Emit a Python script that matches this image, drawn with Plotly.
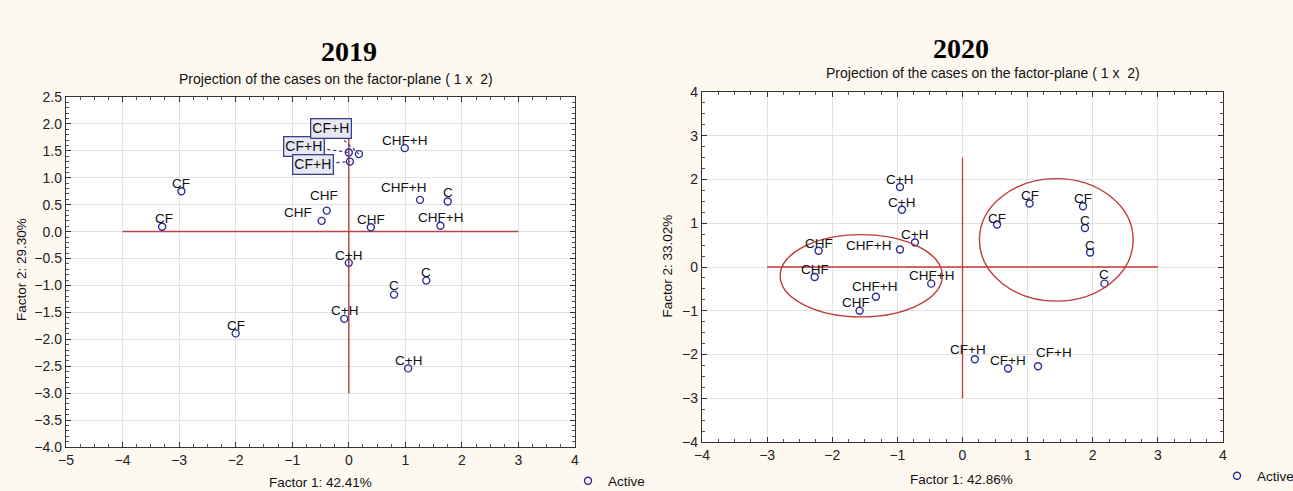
import plotly.graph_objects as go

# ---------------- data ----------------
# 2019 projection of the cases (Factor 1, Factor 2)
labels_2019 = ["CF", "CF", "CF", "CHF", "CHF", "CHF", "CF+H", "CF+H", "CF+H",
               "CHF+H", "CHF+H", "CHF+H", "C", "C", "C", "C+H", "C+H", "C+H"]
f1_2019 = [-3.30, -2.96, -2.00, -0.48, -0.39, 0.39, 0.00, 0.18, 0.02,
           0.99, 1.26, 1.62, 1.75, 1.37, 0.80, 0.00, -0.08, 1.05]
f2_2019 = [0.09, 0.75, -1.89, 0.20, 0.39, 0.08, 1.47, 1.44, 1.30,
           1.55, 0.59, 0.11, 0.56, -0.91, -1.17, -0.58, -1.62, -2.54]
boxed_2019 = [6, 7, 8]                      # cases shown with boxed call-out labels
callout_f1_2019 = [-0.80, -0.32, -0.64]     # box anchors in factor units
callout_f2_2019 = [1.59, 1.92, 1.25]

# 2020 projection of the cases
labels_2020 = ["C+H", "C+H", "C+H", "CHF", "CHF+H", "CHF", "CHF+H", "CHF+H", "CHF",
               "CF+H", "CF+H", "CF+H", "CF", "CF", "CF", "C", "C", "C"]
f1_2020 = [-0.96, -0.93, -0.73, -2.21, -0.96, -2.27, -0.48, -1.33, -1.58,
           0.19, 0.70, 1.16, 0.53, 1.03, 1.85, 1.88, 1.96, 2.18]
f2_2020 = [1.83, 1.31, 0.56, 0.37, 0.40, -0.23, -0.38, -0.68, -1.00,
           -2.11, -2.32, -2.27, 0.97, 1.45, 1.39, 0.89, 0.33, -0.38]

# reference (origin) lines
hline_2019 = [-4, 3]
vline_2019 = [-3, 2]
hline_2020 = [-3, 3]
vline_2020 = [-3, 2.5]

# group ellipses 2020: [x0, x1, y0, y1]
ellipse_left_2020 = [-2.80, -0.31, -1.14, 0.74]
ellipse_right_2020 = [0.26, 2.62, -0.78, 2.02]

pct_2019 = ["42.41%", "29.30%"]
pct_2020 = ["42.86%", "33.02%"]

# ---------------- styling ----------------
W, H = 1293, 491
SANS = "Liberation Sans, Arial, sans-serif"
SERIF = "Liberation Serif, Times New Roman, serif"
NAVY = "#2b2b9c"
RED1 = "#b54848"
RED2 = "#c23a3a"
BG = "#fdf9f1"
GRID = "#e3e3e3"
AX = "#333333"

# label pixel offsets (dx, dy up)
dx_2019 = [2, 0, 0, -24, -3, 0, 0, 0, 0, 0, -17, 0, 0, 0, 0, 0, 0, 0]
dy_2019 = [8, 8, 8, 8, 15, 8, 0, 0, 0, 8, 12, 8, 9, 8, 9, 7, 8, 8]
dx_2020 = [0, 0, 0, 0, -31, 0, 0, -1, -4, -7, 0, 16, 0, 0, 0, 0, 0, 0]
dy_2020 = [7.5, 7.5, 8, 7, 4, 8, 8, 10, 8.6, 10, 8, 14, 6, 7.6, 7.4, 7.7, 7.3, 9]


def px(xp):
    return xp / W


def py(yp):
    return 1 - yp / H


fig = go.Figure()

# origin lines
fig.add_trace(go.Scatter(x=hline_2019, y=[0, 0], mode="lines", line=dict(color=RED1, width=1.5),
                         xaxis="x", yaxis="y", showlegend=False, hoverinfo="skip"))
fig.add_trace(go.Scatter(x=[0, 0], y=vline_2019, mode="lines", line=dict(color=RED1, width=1.5),
                         xaxis="x", yaxis="y", showlegend=False, hoverinfo="skip"))
fig.add_trace(go.Scatter(x=hline_2020, y=[0, 0], mode="lines", line=dict(color=RED2, width=1.3),
                         xaxis="x2", yaxis="y2", showlegend=False, hoverinfo="skip"))
fig.add_trace(go.Scatter(x=[0, 0], y=vline_2020, mode="lines", line=dict(color=RED2, width=1.3),
                         xaxis="x2", yaxis="y2", showlegend=False, hoverinfo="skip"))

# dashed call-out leaders (2019)
for k, i in enumerate(boxed_2019):
    fig.add_trace(go.Scatter(x=[callout_f1_2019[k], f1_2019[i]], y=[callout_f2_2019[k], f2_2019[i]],
                             mode="lines", line=dict(color=NAVY, width=1.1, dash="dot"),
                             xaxis="x", yaxis="y", showlegend=False, hoverinfo="skip"))

marker = dict(symbol="circle-open", size=7, color=NAVY, line=dict(width=1.4, color=NAVY))
fig.add_trace(go.Scatter(x=f1_2019, y=f2_2019, mode="markers", marker=marker, name="Active",
                         text=labels_2019, xaxis="x", yaxis="y", legend="legend"))
fig.add_trace(go.Scatter(x=f1_2020, y=f2_2020, mode="markers", marker=marker, name="Active",
                         text=labels_2020, xaxis="x2", yaxis="y2", legend="legend2"))

ann = []
lab_font = dict(family=SANS, size=13.5, color="#111111")
for i, (lab, xv, yv) in enumerate(zip(labels_2019, f1_2019, f2_2019)):
    if i in boxed_2019:
        continue
    ann.append(dict(x=xv, y=yv, xref="x", yref="y", text=lab, showarrow=False,
                    xanchor="center", yanchor="middle",
                    xshift=dx_2019[i], yshift=dy_2019[i], font=lab_font))
for k, i in enumerate(boxed_2019):
    ann.append(dict(x=callout_f1_2019[k], y=callout_f2_2019[k], xref="x", yref="y",
                    text=labels_2019[i], showarrow=False, font=dict(family=SANS, size=14, color="#111"),
                    xanchor="center", yanchor="middle",
                    bgcolor="#e8e8f3", bordercolor="#3d3d8f", borderwidth=1.3, borderpad=1))
for i, (lab, xv, yv) in enumerate(zip(labels_2020, f1_2020, f2_2020)):
    ann.append(dict(x=xv, y=yv, xref="x2", yref="y2", text=lab, showarrow=False,
                    xanchor="center", yanchor="middle",
                    xshift=dx_2020[i], yshift=dy_2020[i], font=lab_font))


def paper_text(xp, yp, text, font, angle=0):
    return dict(x=px(xp), y=py(yp), xref="paper", yref="paper", text=text, showarrow=False,
                xanchor="center", yanchor="middle", textangle=angle, font=font)


title_font = dict(family=SERIF, size=28, color="#000")
sub_font = dict(family=SANS, size=14, color="#111")
axt_font = dict(family=SANS, size=13.5, color="#111")
subtitle = "Projection of the cases on the factor-plane (\u00a01 x\u00a0\u00a02)"
ann += [
    paper_text(348.7, 51.7, "<b>2019</b>", title_font),
    paper_text(960.5, 48.3, "<b>2020</b>", title_font),
    paper_text(335.8, 79.3, subtitle, sub_font),
    paper_text(982.5, 73.3, subtitle, sub_font),
    paper_text(320, 482, "Factor 1: " + pct_2019[0], axt_font),
    paper_text(961.3, 479.3, "Factor 1: " + pct_2020[0], axt_font),
    paper_text(21, 270, "Factor 2: " + pct_2019[1], axt_font, -90),
    paper_text(667, 266.5, "Factor 2: " + pct_2020[1], axt_font, -90),
]

shapes = []
for e in (ellipse_left_2020, ellipse_right_2020):
    shapes.append(dict(type="circle", xref="x2", yref="y2", x0=e[0], x1=e[1], y0=e[2], y1=e[3],
                       line=dict(color=RED2, width=1.4), layer="above"))


def axis(rng, dtick, minor_dtick, domain, anchor, fmt=None):
    d = dict(range=rng, dtick=dtick, tick0=0, domain=domain, anchor=anchor, automargin=False,
             showgrid=True, gridcolor=GRID, gridwidth=1, zeroline=False,
             showline=True, linecolor=AX, linewidth=1.4, mirror="allticks",
             ticks="inside", ticklen=5, tickcolor=AX, tickwidth=1,
             minor=dict(dtick=minor_dtick, ticks="inside", ticklen=3, tickcolor="#555", showgrid=False),
             tickfont=dict(family=SANS, size=14, color="#222"), fixedrange=True)
    if fmt:
        d["tickformat"] = fmt
    return d


fig.update_layout(
    width=W, height=H,
    margin=dict(l=0, r=0, t=0, b=0, autoexpand=False),
    paper_bgcolor=BG, plot_bgcolor="white",
    xaxis=axis([-5, 4], 1, 0.25, [px(66), px(575)], "y"),
    yaxis=axis([-4, 2.5], 0.5, 0.1, [py(447), py(97)], "x", ".1f"),
    xaxis2=axis([-4, 4], 1, 0.25, [px(702), px(1223)], "y2"),
    yaxis2=axis([-4, 4], 1, 0.25, [py(442), py(92)], "x2"),
    annotations=ann,
    shapes=shapes,
    legend=dict(x=px(568), y=py(481), xanchor="left", yanchor="middle", bgcolor="rgba(0,0,0,0)",
                font=dict(family=SANS, size=13.5, color="#111")),
    legend2=dict(x=px(1217), y=py(476), xanchor="left", yanchor="middle", bgcolor="rgba(0,0,0,0)",
                 font=dict(family=SANS, size=13.5, color="#111")),
    showlegend=True,
)

fig.write_html("out.html", config={"displayModeBar": False},
               post_script="document.body.style.margin='0';document.body.style.overflow='hidden';")
